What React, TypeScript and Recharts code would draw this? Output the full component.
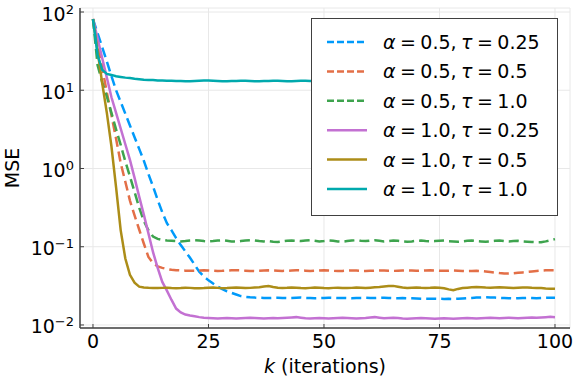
import React from "react";
import { LineChart, Line, XAxis, YAxis, CartesianGrid } from "recharts";

const FONT = "DejaVu Sans";
const INK = "#000000";
const SPINE = "#404040";
const GRID = "#e8e8e8";

// iterations k = 0..100
const ITER = Array.from({ length: 101 }, (_, i) => i);

const X_TICKS = [0, 25, 50, 75, 100];
const Y_TICKS = [0.01, 0.1, 1, 10, 100];

// alpha = 0.5, tau = 0.25
const MSE_A05_T025 = [
  81.3, 53.7, 35.5, 23.4, 15.1, 10.0, 7.08, 5.01, 3.55, 2.51, 1.78, 1.26, 0.851, 0.589, 0.398, 0.275, 0.2, 0.162,
  0.129, 0.105, 0.0871, 0.0724, 0.0589, 0.0479, 0.0417, 0.0372, 0.0339, 0.0309, 0.0288, 0.0269, 0.0257, 0.0245,
  0.0234, 0.0229, 0.0226, 0.0224,
  0.0223, 0.0222, 0.0221, 0.0222, 0.0223, 0.0222, 0.0221, 0.0222, 0.0223, 0.0224, 0.0222, 0.0221, 0.022, 0.0221, 0.0222,
  0.0223, 0.0222, 0.0221, 0.0222, 0.0221, 0.022, 0.0221, 0.0222, 0.0223, 0.0222, 0.0221, 0.0222, 0.0223, 0.0222, 0.0221,
  0.022, 0.0221, 0.022, 0.0219, 0.0218, 0.0217, 0.0216, 0.0216, 0.0217, 0.0216, 0.0215, 0.0216, 0.0215, 0.0216, 0.0218,
  0.022, 0.0222, 0.0224, 0.0225, 0.0226, 0.0225, 0.0224, 0.0222, 0.0221, 0.022, 0.0219, 0.022, 0.0221, 0.0222, 0.0221,
  0.022, 0.0221, 0.0222, 0.0223, 0.0223,
];

// alpha = 0.5, tau = 0.5
const MSE_A05_T05 = [
  81.3, 39.8, 19.5, 9.33, 4.79, 2.4, 1.17, 0.676, 0.389, 0.251, 0.166, 0.11, 0.0741, 0.0617, 0.0562, 0.0537, 0.0519,
  0.0507,
  0.0502, 0.0498, 0.0495, 0.0493, 0.0495, 0.0498, 0.05, 0.0497, 0.0493, 0.049, 0.0492, 0.0496, 0.0499,
  0.0501, 0.0498, 0.0494, 0.049, 0.0488, 0.0492, 0.0496, 0.0499, 0.0497, 0.0494, 0.0491, 0.0493, 0.0497, 0.05, 0.0498,
  0.0494, 0.0491, 0.0493, 0.0497, 0.05, 0.0497, 0.0492, 0.0489, 0.0491, 0.0495, 0.0498, 0.0496, 0.0492, 0.049, 0.0492,
  0.0495, 0.0498, 0.0496, 0.0493, 0.0491, 0.0494, 0.0497, 0.0499, 0.0496, 0.0493, 0.0495, 0.0498, 0.05, 0.0497, 0.0494,
  0.0492, 0.0494, 0.0497, 0.0495, 0.0491, 0.0489, 0.0491, 0.0493, 0.049, 0.0484, 0.0476, 0.0468, 0.0461, 0.0456, 0.0454,
  0.0458, 0.0464, 0.047, 0.0477, 0.0484, 0.049, 0.0496, 0.05, 0.0502, 0.0501,
];

// alpha = 0.5, tau = 1.0
const MSE_A05_T1 = [
  81.3, 20.9, 12.6, 8.32, 5.13, 3.16, 2.0, 1.23, 0.794, 0.501, 0.316, 0.214, 0.162, 0.135, 0.126, 0.122, 0.12,
  0.119, 0.118, 0.117, 0.118, 0.12, 0.121, 0.12, 0.118, 0.117, 0.118, 0.12, 0.121, 0.119, 0.117,
  0.116, 0.118, 0.12, 0.121, 0.12, 0.118, 0.117, 0.118, 0.116, 0.115, 0.117, 0.119, 0.12, 0.119, 0.118,
  0.12, 0.121, 0.119, 0.117, 0.118, 0.12, 0.119, 0.117, 0.116, 0.118, 0.12, 0.121, 0.119, 0.118, 0.12,
  0.121, 0.119, 0.117, 0.118, 0.12, 0.119, 0.117, 0.116, 0.117, 0.119, 0.12, 0.118, 0.117, 0.118, 0.119,
  0.12, 0.118, 0.117, 0.116, 0.117, 0.119, 0.12, 0.118, 0.117, 0.116, 0.117, 0.119, 0.12, 0.118, 0.117,
  0.118, 0.119, 0.117, 0.116, 0.115, 0.114, 0.114, 0.117, 0.121, 0.125,
];

// alpha = 1.0, tau = 0.25
const MSE_A1_T025 = [
  81.3, 45.7, 25.7, 14.5, 8.13, 5.13, 3.24, 2.04, 1.29, 0.759, 0.437, 0.257, 0.148, 0.0851, 0.0537, 0.0355, 0.0275,
  0.0209, 0.0162, 0.0145, 0.0136, 0.0132, 0.0129, 0.0126, 0.0124,
  0.0123, 0.0122, 0.0121, 0.0122, 0.0123, 0.0122, 0.0121, 0.0122, 0.0123, 0.0124, 0.0123, 0.0122, 0.0121, 0.0122, 0.0123,
  0.0122,
  0.0123, 0.0124, 0.0125, 0.0126, 0.0124, 0.0122, 0.0121, 0.0122, 0.0123, 0.0122, 0.0121, 0.0122, 0.0123, 0.0124, 0.0123,
  0.0122, 0.0121, 0.0122, 0.0123, 0.0125, 0.0126, 0.0124, 0.0122, 0.0123, 0.0124, 0.0123, 0.0121, 0.012, 0.0121, 0.0122,
  0.0123, 0.0122, 0.0121, 0.012, 0.0121, 0.0122, 0.0121, 0.012, 0.0121, 0.0122, 0.0123, 0.0122, 0.0121, 0.0122, 0.0123,
  0.0124, 0.0123, 0.0122, 0.0123, 0.0124, 0.0123, 0.0122, 0.0123, 0.0124, 0.0125, 0.0124, 0.0125, 0.0126, 0.0127, 0.0126,
];

// alpha = 1.0, tau = 0.5
const MSE_A1_T05 = [
  81.3, 31.6, 12.3, 5.13, 1.91, 0.575, 0.162, 0.0708, 0.0437, 0.0347, 0.0309, 0.0302,
  0.0299, 0.0297, 0.0296, 0.0298, 0.03, 0.0297, 0.0295, 0.0297, 0.03, 0.0298, 0.0295, 0.0294, 0.0296, 0.0299,
  0.0301, 0.0298, 0.0295, 0.0297, 0.03, 0.0302, 0.0299, 0.0296, 0.0298, 0.0301, 0.0304, 0.031, 0.0315, 0.0306, 0.0299,
  0.0297, 0.0299, 0.0302, 0.03, 0.0297, 0.0295, 0.0298, 0.0301, 0.0299, 0.0296, 0.0295, 0.0298, 0.03, 0.0297, 0.0296,
  0.0298, 0.0301, 0.0299, 0.0297, 0.03, 0.0303, 0.0306, 0.031, 0.0314, 0.0316, 0.0308, 0.0301, 0.0298, 0.03, 0.0302,
  0.0299, 0.0297, 0.0299, 0.0302, 0.03, 0.0294, 0.0285, 0.0278, 0.0289, 0.0297, 0.03, 0.0303, 0.0305, 0.0304, 0.0301,
  0.0299, 0.0301, 0.0303, 0.0302, 0.03, 0.0298, 0.03, 0.0302, 0.0301, 0.0299, 0.0298, 0.0296, 0.0293, 0.0291, 0.029,
];

// alpha = 1.0, tau = 1.0
const MSE_A1_T1 = [
  81.3, 28.2, 18.2, 16.2, 15.7, 15.1, 14.8, 14.5, 14.3, 14.0, 13.8, 13.6, 13.5, 13.5, 13.3, 13.3,
  13.2, 13.2, 13.1, 13.1, 13.0, 13.0, 13.1, 13.2, 13.3, 13.3, 13.2, 13.1, 13.0, 13.0, 13.1,
  13.1, 13.2, 13.2, 13.1, 13.0, 13.0, 13.1, 13.1, 13.2, 13.2, 13.1, 13.0, 13.0, 13.1, 13.2,
  13.2, 13.1, 13.1, 13.0, 13.0, 13.1, 13.1, 13.2, 13.1, 13.1, 13.0, 13.0, 13.1, 13.1, 13.0,
  13.0, 13.1, 13.1, 13.2, 13.1, 13.0, 13.0, 13.1, 13.1, 13.0, 13.0, 13.1, 13.2, 13.1, 13.0,
  13.0, 13.1, 13.1, 13.0, 13.0, 13.1, 13.1, 13.0, 13.1, 13.2, 13.1, 13.0, 13.0, 13.1, 13.1,
  13.0, 13.0, 13.1, 13.1, 13.0, 13.1, 13.2, 13.1, 13.0, 13.0,
];

const SERIES = [
  { key: "a05t025", alpha: "0.5", tau: "0.25", color: "#009AFA", dashed: true, values: MSE_A05_T025 },
  { key: "a05t05", alpha: "0.5", tau: "0.5", color: "#E36F47", dashed: true, values: MSE_A05_T05 },
  { key: "a05t1", alpha: "0.5", tau: "1.0", color: "#3EA44E", dashed: true, values: MSE_A05_T1 },
  { key: "a1t025", alpha: "1.0", tau: "0.25", color: "#C371D2", dashed: false, values: MSE_A1_T025 },
  { key: "a1t05", alpha: "1.0", tau: "0.5", color: "#AC8D18", dashed: false, values: MSE_A1_T05 },
  { key: "a1t1", alpha: "1.0", tau: "1.0", color: "#00A9AD", dashed: false, values: MSE_A1_T1 },
];

const data = ITER.map((k, i) => {
  const row: Record<string, number> = { k };
  SERIES.forEach((s) => (row[s.key] = s.values[i]));
  return row;
});

const YTick = (props: any) => {
  const { x, y, payload } = props;
  const exp = Math.round(Math.log10(payload.value));
  const sup = exp < 0 ? "\u2212" + Math.abs(exp) : String(exp);
  return (
    <g>
      <line x1={x + 6} x2={x + 10} y1={y} y2={y} stroke={SPINE} strokeWidth={1} />
      <text x={x} y={y + 8.5} textAnchor="end" fontFamily={FONT} fontSize={19} fill={INK}>
        10
        <tspan dy={-7} fontSize={13}>
          {sup}
        </tspan>
      </text>
    </g>
  );
};

const XTick = (props: any) => {
  const { x, y, payload } = props;
  return (
    <g>
      <line x1={x} x2={x} y1={y - 6} y2={y - 10} stroke={SPINE} strokeWidth={1} />
      <text x={x} y={y + 14} textAnchor="middle" fontFamily={FONT} fontSize={19} fill={INK}>
        {payload.value}
      </text>
    </g>
  );
};

const XLabel = ({ viewBox }: any) => (
  <text
    x={viewBox.x + viewBox.width / 2}
    y={viewBox.y + 44.5}
    textAnchor="middle"
    fontFamily={FONT}
    fontSize={19}
    fill={INK}
  >
    <tspan fontStyle="italic">k</tspan> (iterations)
  </text>
);

const YLabel = ({ viewBox }: any) => {
  const cx = 18.5;
  const cy = viewBox.y + viewBox.height / 2;
  return (
    <text
      x={cx}
      y={cy}
      transform={`rotate(-90 ${cx} ${cy})`}
      textAnchor="middle"
      fontFamily={FONT}
      fontSize={19}
      fill={INK}
    >
      MSE
    </text>
  );
};

function LegendBox() {
  return (
    <div
      style={{
        position: "absolute",
        left: 311,
        top: 18,
        width: 247,
        height: 198,
        border: `1px solid ${SPINE}`,
        background: "#ffffff",
        boxSizing: "border-box",
      }}
    >
      <svg width={245} height={196} style={{ display: "block" }}>
        {SERIES.map((s, i) => {
          const cy = 23 + i * 29.4;
          return (
            <g key={s.key}>
              <line
                x1={15}
                x2={55}
                y1={cy}
                y2={cy}
                stroke={s.color}
                strokeWidth={2.5}
                strokeDasharray={s.dashed ? "7 3" : undefined}
              />
              <text x={71} y={cy + 7} fontFamily={FONT} fontSize={19} fill={INK} wordSpacing={-1.6}>
                <tspan fontStyle="italic">α</tspan> = {s.alpha}, <tspan fontStyle="italic">τ</tspan> = {s.tau}
              </text>
            </g>
          );
        })}
      </svg>
    </div>
  );
}

export default function App() {
  return (
    <div style={{ position: "absolute", left: 0, top: 0, width: 576, height: 384, background: "#ffffff" }}>
      <LineChart width={576} height={384} data={data} margin={{ top: 8, right: 6, left: 0, bottom: 0 }}>
        <CartesianGrid stroke={GRID} strokeWidth={1} />
        <XAxis
          dataKey="k"
          type="number"
          domain={[-2.81, 103.25]}
          allowDataOverflow
          ticks={X_TICKS}
          interval={0}
          height={56}
          tickSize={0}
          tickMargin={6}
          tickLine={false}
          axisLine={{ stroke: SPINE, strokeWidth: 1.5 }}
          tick={<XTick />}
          label={<XLabel />}
        />
        <YAxis
          type="number"
          scale="log"
          domain={[0.00915, 112.5]}
          allowDataOverflow
          ticks={Y_TICKS}
          interval={0}
          width={80}
          tickSize={0}
          tickMargin={6}
          tickLine={false}
          axisLine={{ stroke: SPINE, strokeWidth: 1.5 }}
          tick={<YTick />}
          label={<YLabel />}
        />
        {SERIES.map((s) => (
          <Line
            key={s.key}
            dataKey={s.key}
            type="linear"
            stroke={s.color}
            strokeWidth={2.5}
            strokeDasharray={s.dashed ? "10 5" : undefined}
            dot={false}
            activeDot={false}
            isAnimationActive={false}
          />
        ))}
      </LineChart>
      <LegendBox />
    </div>
  );
}
